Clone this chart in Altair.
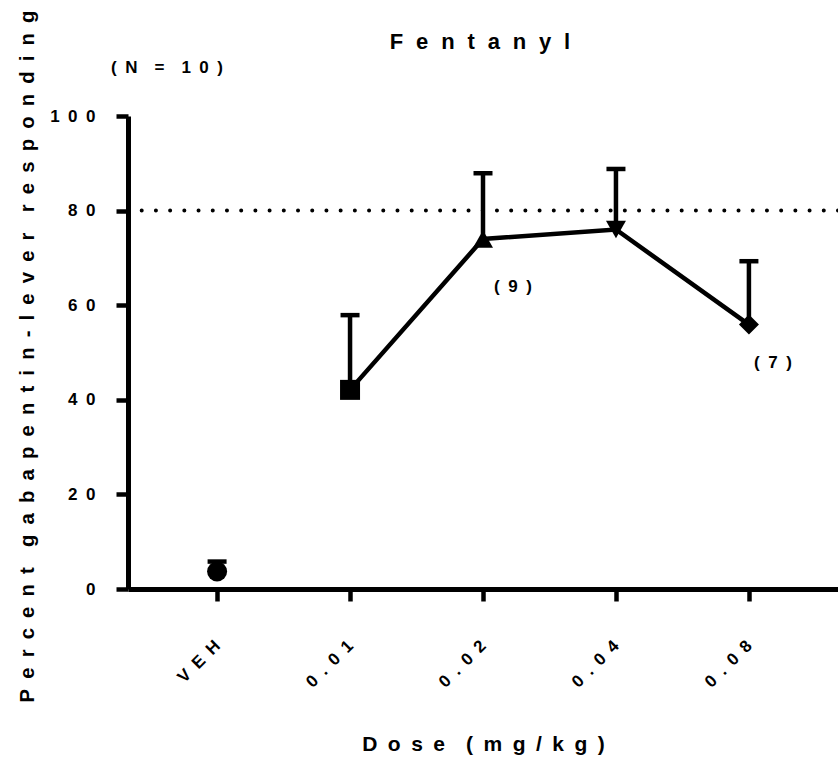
import altair as alt
import pandas as pd

# Dose groups (x categories) and group means / upper SEM limits (% responding)
doses = ["VEH", "0.01", "0.02", "0.04", "0.08"]
mean_pct = [3.7, 42.1, 74.0, 76.0, 55.9]
upper_pct = [5.8, 57.9, 87.9, 88.8, 69.3]
shapes = ["circle", "square", "triangle-up", "triangle-down", "diamond"]

# Substitution criterion and y-axis ticks
criterion = [80]
y_ticks = [0, 20, 40, 60, 80, 100]

# Group sizes that differ from the overall N
note_doses = ["0.02", "0.08"]
note_texts = ["(9)", "(7)"]
overall_n = "(N = 10)"

FONT = "Liberation Sans"
SP = "\u2002"  # en space used as wide letter spacing


def spaced(s, gap=SP):
    # letter-spaced text; a word break becomes a double gap
    return (gap + gap).join(gap.join(w) for w in s.split(" "))


df = pd.DataFrame({"dose": doses, "mean": mean_pct, "upper": upper_pct, "shape": shapes})

x_enc = alt.X(
    "dose:N",
    sort=doses,
    scale=alt.Scale(type="point", padding=0.67),
    axis=alt.Axis(
        title=spaced("Dose (mg/kg)"),
        titleFont=FONT,
        titleFontSize=21,
        titleFontWeight="bold",
        titleColor="black",
        titleY=155,
        titleBaseline="middle",
        labelExpr="join(split(datum.label, ''), '" + SP + "')",
        labelFont=FONT,
        labelFontSize=17,
        labelFontWeight="bold",
        labelColor="black",
        labelAngle=315,
        labelAlign="right",
        labelBaseline="middle",
        labelPadding=42,
        tickSize=12,
        tickWidth=4.5,
        tickColor="black",
        domainWidth=5,
        domainColor="black",
        grid=False,
    ),
)

y_enc = alt.Y(
    "mean:Q",
    scale=alt.Scale(domain=[0, 100], nice=False),
    axis=alt.Axis(
        values=y_ticks,
        title=spaced("Percent gabapentin-lever responding"),
        titleFont=FONT,
        titleFontSize=20.3,
        titleFontWeight="bold",
        titleColor="black",
        titleAngle=270,
        titleX=-101,
        titleY=240,
        titleAlign="center",
        titleBaseline="middle",
        labelExpr="join(split(datum.label, ''), '" + SP + "')",
        labelFont=FONT,
        labelFontSize=17,
        labelFontWeight="bold",
        labelColor="black",
        labelPadding=21,
        tickSize=12,
        tickWidth=4.5,
        tickColor="black",
        domainWidth=5,
        domainColor="black",
        grid=False,
    ),
)

base = alt.Chart(df)

# dotted criterion line at 80 %
crit_line = alt.Chart(pd.DataFrame({"c": criterion})).mark_rule(
    color="black", strokeWidth=4, strokeDash=[0.01, 14.2], strokeCap="round"
).encode(y=alt.Y("c:Q"))

# upper error bars with caps
err_stem = base.mark_rule(color="black", strokeWidth=4.5).encode(
    x=x_enc, y=y_enc, y2="upper:Q"
)
err_cap = base.mark_tick(color="black", size=19, thickness=4.5, opacity=1).encode(
    x=x_enc, y="upper:Q"
)

# dose-effect curve (drug doses only)
curve = base.transform_filter(alt.datum.dose != "VEH").mark_line(
    color="black", strokeWidth=4.5
).encode(x=x_enc, y=y_enc)

points = base.mark_point(filled=True, size=400, opacity=1, color="black").encode(
    x=x_enc, y=y_enc, shape=alt.Shape("shape:N", scale=None, legend=None)
)

# group-size notes under individual points
note_offsets = {"0.02": (30, 48), "0.08": (24, 38)}
notes = []
for d, t in zip(note_doses, note_texts):
    ndx, ndy = note_offsets[d]
    notes.append(
        base.transform_filter(alt.datum.dose == d)
        .mark_text(font=FONT, fontSize=17, fontWeight="bold", color="black", dx=ndx, dy=ndy)
        .encode(x=x_enc, y=y_enc, text=alt.value(spaced(t)))
    )

title = alt.Chart(pd.DataFrame({"t": [spaced("Fentanyl", SP + "\u200a")]})).mark_text(
    font=FONT, fontSize=22, fontWeight="bold", color="black", align="center", baseline="middle"
).encode(x=alt.value(352), y=alt.value(-74), text="t:N")

n_label = alt.Chart(pd.DataFrame({"t": [spaced(overall_n)]})).mark_text(
    font=FONT, fontSize=17, fontWeight="bold", color="black", align="center", baseline="middle"
).encode(x=alt.value(39), y=alt.value(-48), text="t:N")

chart = (
    alt.layer(crit_line, err_stem, err_cap, curve, points, *notes, title, n_label)
    .properties(
        width=710,
        height=473,
        autosize=alt.AutoSizeParams(type="none"),
        padding={"left": 128, "top": 116, "right": 0, "bottom": 168},
        background="white",
    )
    .configure_view(stroke=None)
)

chart.save("out.html", embed_options={"renderer": "svg", "actions": False})
